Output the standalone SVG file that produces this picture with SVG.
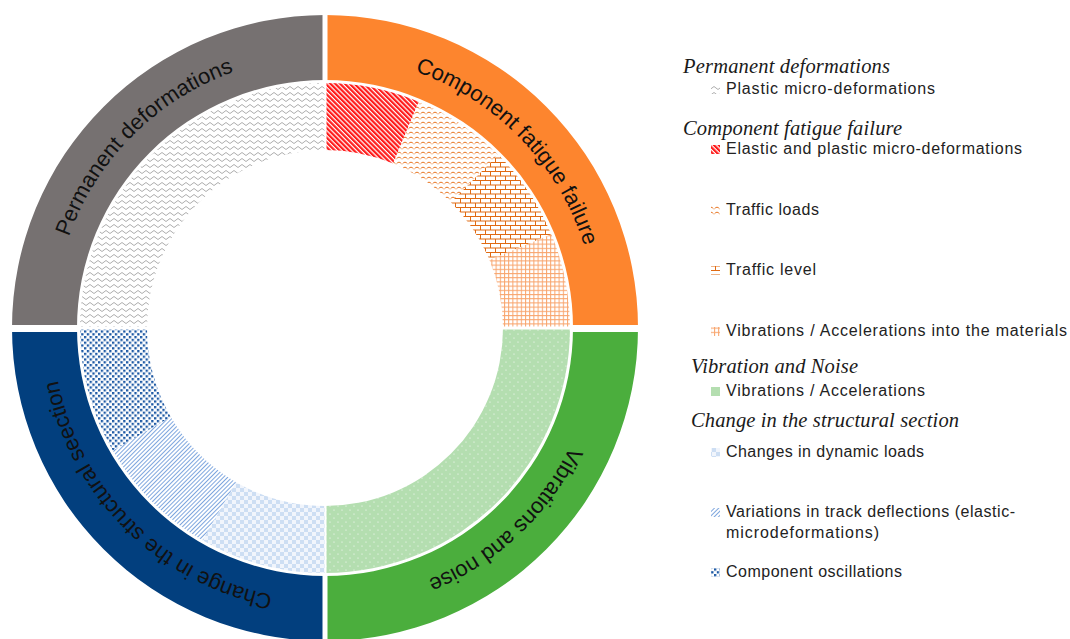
<svg xmlns="http://www.w3.org/2000/svg" width="1070" height="639" viewBox="0 0 1070 639">
<style>
.ring{stroke:none}
.lbl{font-family:"Liberation Sans",Arial,sans-serif;font-size:22px;fill:#111}
.hdr{font-family:"Liberation Serif","Times New Roman",serif;font-style:italic;font-size:20.5px;fill:#1a1a1a}
.item{font-family:"Liberation Sans",Arial,sans-serif;font-size:16px;fill:#222}
.gap{fill:#fff}
.gl{stroke:#fff;fill:none}
</style>
<defs>
<pattern id="pZig" width="8" height="6" patternUnits="userSpaceOnUse"><rect width="8" height="6" fill="#fff"/><path d="M0,4 Q2,1 4,4 T8,4" fill="none" stroke="#a3a3a3" stroke-width="0.9"/></pattern>
<pattern id="pRed" width="3.4" height="3.4" patternUnits="userSpaceOnUse" patternTransform="rotate(-45)"><rect width="3.4" height="3.4" fill="#fff"/><rect width="2.2" height="3.4" fill="#ff1a1a"/></pattern>
<pattern id="pWave" width="6" height="5" patternUnits="userSpaceOnUse"><rect width="6" height="5" fill="#fff"/><path d="M0.5,3.8 Q3,0.6 5.5,3.8" fill="none" stroke="#e8731f" stroke-width="1"/></pattern>
<pattern id="pBrick" width="10" height="9" patternUnits="userSpaceOnUse"><rect width="10" height="9" fill="#fff"/><path d="M0,0.5 H10 M0,5 H10 M0.5,0.5 V5 M5.5,5 V9" fill="none" stroke="#e06a12" stroke-width="1"/></pattern>
<pattern id="pGrid" width="4.2" height="4.2" patternUnits="userSpaceOnUse"><rect width="4.2" height="4.2" fill="#fff"/><path d="M0,0.5 H4.2 M0.5,0 V4.2" fill="none" stroke="#f8a46c" stroke-width="1"/></pattern>
<pattern id="pGreen" width="8" height="8" patternUnits="userSpaceOnUse"><rect width="8" height="8" fill="#b4deb0"/><circle cx="2" cy="2" r="0.6" fill="#fff"/><circle cx="6" cy="6" r="0.6" fill="#fff"/></pattern>
<pattern id="pCheck" width="8" height="8" patternUnits="userSpaceOnUse"><rect width="8" height="8" fill="#f1f5fc"/><rect width="4" height="4" fill="#cddef3"/><rect x="4" y="4" width="4" height="4" fill="#cddef3"/></pattern>
<pattern id="pDiag" width="3" height="3" patternUnits="userSpaceOnUse" patternTransform="rotate(45)"><rect width="3" height="3" fill="#fff"/><rect width="1" height="3" fill="#7ea6de"/></pattern>
<pattern id="pDots" width="5.6" height="5.6" patternUnits="userSpaceOnUse"><rect width="5.6" height="5.6" fill="#fff"/><rect width="2.3" height="2.3" fill="#1c58a4"/><rect x="2.8" y="2.8" width="2.3" height="2.3" fill="#1c58a4"/></pattern>
<path id="arcTL" d="M53,328 A272,272 0 0 1 325,56"/>
<path id="arcTR" d="M325,56 A272,272 0 0 1 597,328"/>
<path id="arcBR" d="M597,328 A272,272 0 0 1 325,600"/>
<path id="arcBL" d="M325,600 A272,272 0 0 1 53,328"/>
</defs>

<g id="outer-ring">
<g id="node-permanent-deformations">
<path class="ring" fill="#767171" d="M12,328 A313,313 0 0 1 325,15 L325,80 A248,248 0 0 0 77,328 Z"/>
<text class="lbl"><textPath href="#arcTL" startOffset="50%" text-anchor="middle">Permanent deformations</textPath></text>
</g>
<g id="node-component-fatigue-failure">
<path class="ring" fill="#fd852e" d="M325,15 A313,313 0 0 1 638,328 L573,328 A248,248 0 0 0 325,80 Z"/>
<text class="lbl"><textPath href="#arcTR" startOffset="51%" text-anchor="middle">Component fatigue failure</textPath></text>
</g>
<g id="node-vibrations-and-noise">
<path class="ring" fill="#4bae3d" d="M638,328 A313,313 0 0 1 325,641 L325,576 A248,248 0 0 0 573,328 Z"/>
<text class="lbl"><textPath href="#arcBR" startOffset="52%" text-anchor="middle">Vibrations and noise</textPath></text>
</g>
<g id="node-change-structural-section">
<path class="ring" fill="#023f7e" d="M325,641 A313,313 0 0 1 12,328 L77,328 A248,248 0 0 0 325,576 Z"/>
<text class="lbl"><textPath href="#arcBL" startOffset="50%" text-anchor="middle">Change in the structural seection</textPath></text>
</g>
</g>

<g id="inner-ring">
<path id="node-plastic" fill="url(#pZig)" d="M80,328 A245,245 0 0 1 325,83 L325,150 A178,178 0 0 0 147,328 Z"/>
<path id="node-elastic-plastic" fill="url(#pRed)" d="M325,83 A245,245 0 0 1 418.76,101.65 L393.12,163.55 A178,178 0 0 0 325,150 Z"/>
<path id="node-traffic-loads" fill="url(#pWave)" d="M418.76,101.65 A245,245 0 0 1 498.24,154.76 L450.87,202.13 A178,178 0 0 0 393.12,163.55 Z"/>
<path id="node-traffic-level" fill="url(#pBrick)" d="M498.24,154.76 A245,245 0 0 1 551.35,234.24 L489.45,259.88 A178,178 0 0 0 450.87,202.13 Z"/>
<path id="node-vib-materials" fill="url(#pGrid)" d="M551.35,234.24 A245,245 0 0 1 570,328 L503,328 A178,178 0 0 0 489.45,259.88 Z"/>
<path id="node-vib-acc" fill="url(#pGreen)" d="M570,328 A245,245 0 0 1 325,573 L325,506 A178,178 0 0 0 503,328 Z"/>
<path id="node-dynamic-loads" fill="url(#pCheck)" d="M325,573 A245,245 0 0 1 202.5,540.18 L236,482.15 A178,178 0 0 0 325,506 Z"/>
<path id="node-track-deflections" fill="url(#pDiag)" d="M202.5,540.18 A245,245 0 0 1 112.82,450.5 L170.85,417 A178,178 0 0 0 236,482.15 Z"/>
<path id="node-oscillations" fill="url(#pDots)" d="M112.82,450.5 A245,245 0 0 1 80,328 L147,328 A178,178 0 0 0 170.85,417 Z"/>
</g>

<g id="gaps">
<rect class="gap" x="322.5" y="8" width="5" height="74"/>
<rect class="gap" x="322.5" y="574" width="5" height="70"/>
<rect class="gap" x="5" y="325" width="74" height="7"/>
<rect class="gap" x="571" y="325" width="74" height="7"/>
<path class="gl" stroke-width="2" d="M325.5,80 V152 M325.5,504 V576"/>
<path class="gl" stroke-width="3" d="M78,328 H149 M501,328 H572"/>
</g>

<g id="legend">
<text class="hdr" x="683" y="73" textLength="207" lengthAdjust="spacing">Permanent deformations</text>
<rect x="711" y="85" width="9" height="9" fill="url(#pZig)"/>
<text class="item" x="726" y="94" textLength="209" lengthAdjust="spacing">Plastic micro-deformations</text>

<text class="hdr" x="683" y="135" textLength="219" lengthAdjust="spacing">Component fatigue failure</text>
<rect x="711" y="145" width="9" height="9" fill="url(#pRed)"/>
<text class="item" x="726" y="154" textLength="296" lengthAdjust="spacing">Elastic and plastic micro-deformations</text>
<rect x="711" y="206" width="9" height="9" fill="url(#pWave)"/>
<text class="item" x="726" y="215" textLength="93" lengthAdjust="spacing">Traffic loads</text>
<rect x="711" y="266" width="9" height="9" fill="url(#pBrick)"/>
<text class="item" x="726" y="275" textLength="90" lengthAdjust="spacing">Traffic level</text>
<rect x="711" y="327" width="9" height="9" fill="url(#pGrid)"/>
<text class="item" x="726" y="336" textLength="341" lengthAdjust="spacing">Vibrations / Accelerations into the materials</text>

<text class="hdr" x="691" y="373" textLength="167" lengthAdjust="spacing">Vibration and Noise</text>
<rect x="711" y="387" width="9" height="9" fill="#b4deb0"/>
<text class="item" x="726" y="396" textLength="199" lengthAdjust="spacing">Vibrations / Accelerations</text>

<text class="hdr" x="691" y="427" textLength="268" lengthAdjust="spacing">Change in the structural section</text>
<rect x="711" y="448" width="9" height="9" fill="url(#pCheck)"/>
<text class="item" x="726" y="457" textLength="198" lengthAdjust="spacing">Changes in dynamic loads</text>
<rect x="711" y="508" width="9" height="9" fill="url(#pDiag)"/>
<text class="item" x="726" y="517" textLength="289" lengthAdjust="spacing">Variations in track deflections (elastic-</text>
<text class="item" x="726" y="538" textLength="153" lengthAdjust="spacing">microdeformations)</text>
<rect x="711" y="568" width="9" height="9" fill="url(#pDots)"/>
<text class="item" x="726" y="577" textLength="176" lengthAdjust="spacing">Component oscillations</text>
</g>
</svg>
